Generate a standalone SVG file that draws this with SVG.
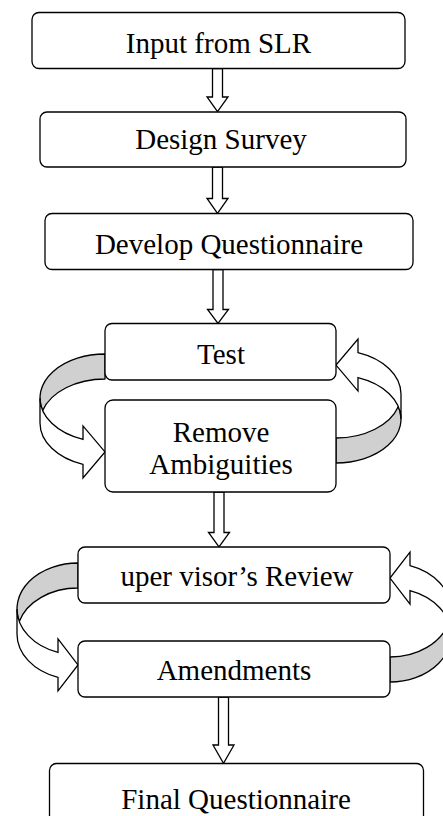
<svg xmlns="http://www.w3.org/2000/svg" width="443" height="816" viewBox="0 0 443 816">
<style>
.box{fill:#fff;stroke:#000;stroke-width:1.3}
.blk{fill:#fff;stroke:#000;stroke-width:1.3;stroke-linejoin:miter}
.dark{fill:#d0d0d0;stroke:#000;stroke-width:1.3;stroke-linejoin:round}
.light{fill:#fff;stroke:#000;stroke-width:1.3;stroke-linejoin:miter}
text{font-family:"Liberation Serif","Times New Roman",serif;font-size:29px;fill:#000;text-anchor:middle}
</style>
<rect width="443" height="816" fill="#fff"/>
<g id="connectors">
  <polygon class="blk" points="212.5,68.5 222.5,68.5 222.5,97 228,97 217.5,111.7 207,97 212.5,97"/>
  <polygon class="blk" points="212.5,167 222.5,167 222.5,198.5 228,198.5 217.5,213.3 207,198.5 212.5,198.5"/>
  <polygon class="blk" points="213,269.5 223,269.5 223,309.5 228.5,309.5 218,323.5 207.5,309.5 213,309.5"/>
  <polygon class="blk" points="214,492 224,492 224,532.5 229.5,532.5 219,546.8 208.5,532.5 214,532.5"/>
  <polygon class="blk" points="218.5,697 228.5,697 228.5,745 234,745 223.5,763.3 213,745 218.5,745"/>
  <g id="loop1-left">
    <path class="dark" d="M105,354 A65,44 0 0 0 42.68,410.5 A65,44 0 0 1 105,379 Z"/>
    <path class="light" d="M40,398 A65,44 0 0 0 83,439.4 L83,425.9 L105,451.9 L83,477.9 L83,464.4 A65,44 0 0 1 40,423 Z"/>
  </g>
  <g id="loop1-right" transform="rotate(180 220.5 408.5)">
    <path class="dark" d="M105,354 A65,44 0 0 0 42.68,410.5 A65,44 0 0 1 105,379 Z"/>
    <path class="light" d="M40,398 A65,44 0 0 0 83,439.4 L83,425.9 L105,451.9 L83,477.9 L83,464.4 A65,44 0 0 1 40,423 Z"/>
  </g>
  <g id="loop2-left">
    <path class="dark" d="M78,563 A61,46 0 0 0 19.3,621.5 A61,46 0 0 1 78,588 Z"/>
    <path class="light" d="M17,609 A61,46 0 0 0 58,652.46 L58,638.96 L78,664.96 L58,690.96 L58,677.46 A61,46 0 0 1 17,634 Z"/>
  </g>
  <g id="loop2-right" transform="rotate(180 234 622.5)">
    <path class="dark" d="M78,563 A61,47 0 0 0 19.2,622.5 A61,47 0 0 1 78,588 Z"/>
    <path class="light" d="M17,610 A61,47 0 0 0 58,654.4 L58,640.9 L78,666.9 L58,692.9 L58,679.4 A61,47 0 0 1 17,635 Z"/>
  </g>
</g>
<g id="n1"><rect class="box" x="32" y="12.5" width="373" height="56" rx="7"/><text x="218.5" y="53">Input from SLR</text></g>
<g id="n2"><rect class="box" x="40" y="112" width="366" height="55" rx="7"/><text x="221" y="148.5">Design Survey</text></g>
<g id="n3"><rect class="box" x="45" y="213.5" width="368" height="56" rx="7"/><text x="229" y="253.5">Develop Questionnaire</text></g>
<g id="n4"><rect class="box" x="105" y="323.5" width="231" height="56.5" rx="7"/><text x="221" y="363.5">Test</text></g>
<g id="n5"><rect class="box" x="105" y="400" width="231" height="92" rx="8"/><text x="221" y="442">Remove</text><text x="221" y="474">Ambiguities</text></g>
<g id="n6"><rect class="box" x="78" y="547" width="312" height="56" rx="7"/><text x="237" y="586">uper visor’s Review</text></g>
<g id="n7"><rect class="box" x="78" y="641" width="312" height="56" rx="7"/><text x="234" y="680">Amendments</text></g>
<g id="n8"><rect class="box" x="49.5" y="763.5" width="374" height="70" rx="7"/><text x="236" y="809">Final Questionnaire</text></g>
</svg>
